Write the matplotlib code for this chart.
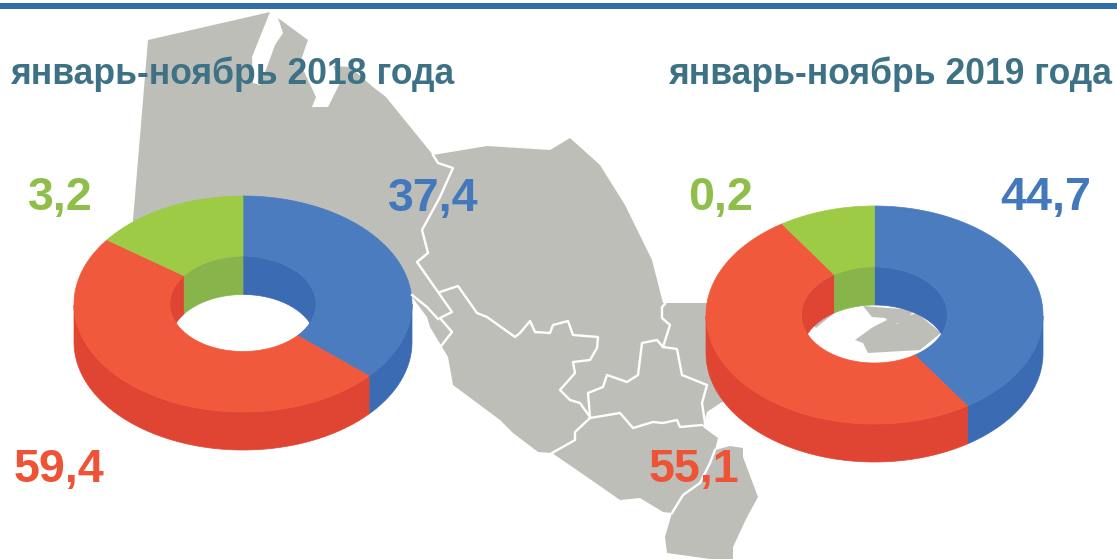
import matplotlib

matplotlib.use("Agg")
import matplotlib.pyplot as plt
import numpy as np
from matplotlib.patches import Ellipse, Polygon

plt.rcParams["font.family"] = ["Liberation Sans", "DejaVu Sans"]

# values printed on the chart
titles = ["январь-ноябрь 2018 года", "январь-ноябрь 2019 года"]
labels_2018 = ["37,4", "59,4", "3,2"]
labels_2019 = ["44,7", "55,1", "0,2"]

# slice shares as drawn (they do not follow the printed labels), clockwise from the top
shares_2018 = [36.6, 48.5, 14.9]
shares_2019 = [40.7, 50.05, 9.25]

top_colors = ["#4a7cbf", "#f0593b", "#9dcb45"]
wall_colors = ["#3b6bb3", "#e04533", "#88b54b"]
label_colors = ["#4478bc", "#ee5336", "#8fbf4a"]
map_color = "#bebeb9"
title_color = "#3d7286"
bar_color = "#2f6fa5"

# map outline, in picture pixels
map_outline = [
    (148, 40), (270, 12), (260, 37), (252, 57), (253, 83), (260, 85), (267, 67),
    (275, 45), (283, 33), (278, 18), (308, 40), (300, 63), (316, 97), (312, 107),
    (328, 107), (340, 83), (333, 66), (350, 67), (373, 87), (386, 97), (433, 155),
    (487, 146), (550, 150), (570, 138), (600, 165), (625, 205), (652, 260), (663, 303),
    (707, 303), (760, 300), (770, 380), (722, 402), (707, 412), (703, 427), (718, 438),
    (715, 450), (730, 446), (743, 448), (743, 457), (758, 497), (747, 517), (733, 547),
    (733, 559), (710, 559), (667, 553), (665, 537), (672, 513), (663, 512), (640, 498),
    (620, 500), (587, 477), (552, 453), (538, 452), (513, 433), (500, 420), (453, 385),
    (448, 357), (430, 327), (427, 317), (412, 297), (380, 270), (300, 260), (200, 255),
    (133, 240), (133, 220),
]
hole_strip = [(863, 306), (915, 310), (905, 320), (893, 325), (885, 318), (872, 317)]
hole_blob = [(855, 340), (873, 327), (887, 320), (897, 324), (907, 316), (917, 313), (941, 333),
             (920, 350), (868, 353), (863, 343)]
hole_edge = [(813, 325), (830, 311), (833, 314), (816, 328)]

# white region borders, in picture pixels
border_lines = [
    [(433, 155), (438, 163), (453, 168), (440, 197), (422, 230), (428, 253), (417, 262), (452, 312),
     (440, 318), (452, 332), (438, 350)],
    [(412, 295), (427, 307), (438, 319)],
    [(440, 292), (458, 286), (477, 313), (487, 317), (515, 337), (520, 333), (530, 321), (535, 332),
     (550, 333), (553, 325), (568, 321), (573, 335), (598, 337), (597, 348), (590, 360), (573, 362),
     (575, 373), (560, 390), (570, 400), (580, 403), (590, 417)],
    [(590, 418), (575, 432), (575, 440), (552, 453)],
    [(590, 418), (620, 413), (633, 428), (653, 422), (663, 423), (677, 420), (680, 427), (702, 425)],
    [(590, 417), (588, 393), (603, 387), (607, 375), (627, 382), (638, 375), (642, 343), (657, 340),
     (663, 347), (677, 349), (682, 375), (707, 385), (702, 403), (705, 423)],
    [(663, 347), (670, 325), (662, 318), (662, 307), (665, 304)],
    [(715, 450), (710, 463), (700, 483), (683, 495), (672, 513)],
]


def arc(cx, cy, rx, ry, t):
    rad = np.radians(t)
    return cx + rx * np.sin(rad), cy - ry * np.cos(rad)


def band(ax, t, cx, cy, rx, ry, h, color, clip=None):
    x, y = arc(cx, cy, rx, ry, t)
    pts = np.r_[np.c_[x, y], np.c_[x, y + h][::-1]]
    patch = Polygon(pts, closed=True, fc=color, ec=color, lw=0.5)
    ax.add_patch(patch)
    if clip is not None:
        patch.set_clip_path(clip)


def draw_donut(ax, shares, cx, cy, rx, ry, inner_rx, inner_ry, depth=38):
    edges = np.r_[0, np.cumsum(shares)] / np.sum(shares) * 360
    spans = list(zip(edges[:-1], edges[1:]))
    hole = Ellipse((cx, cy), 2 * inner_rx, 2 * inner_ry, transform=ax.transData)

    # outer wall: front half only
    for (a, b), color in zip(spans, wall_colors):
        t = np.linspace(a, b, 200)
        t = t[np.cos(np.radians(t)) <= 0]
        if len(t):
            band(ax, t, cx, cy, rx, ry, depth, color)

    # top face
    for (a, b), color in zip(spans, top_colors):
        t = np.linspace(a, b, 200)
        xo, yo = arc(cx, cy, rx, ry, t)
        xi, yi = arc(cx, cy, inner_rx, inner_ry, t)
        pts = np.r_[np.c_[xo, yo], np.c_[xi, yi][::-1]]
        ax.add_patch(Polygon(pts, closed=True, fc=color, ec=color, lw=0.5))

    # inner wall: back half, seen through the hole
    for (a, b), color in zip(spans, wall_colors):
        t = np.linspace(a, b, 200)
        t = t[np.cos(np.radians(t)) >= 0]
        if len(t):
            band(ax, t, cx, cy, inner_rx, inner_ry, depth, color, clip=hole)


def main():
    fig = plt.figure(figsize=(11.17, 5.59), dpi=100)
    ax = fig.add_axes([0, 0, 1, 1])
    ax.set_xlim(0, 1117)
    ax.set_ylim(559, 0)
    ax.axis("off")

    ax.add_patch(Polygon(map_outline, closed=True, fc=map_color, ec="none"))
    for piece in (hole_strip, hole_blob, hole_edge):
        ax.add_patch(Polygon(piece, closed=True, fc=map_color, ec="none"))
    for line in border_lines:
        xs, ys = zip(*line)
        ax.plot(xs, ys, color="white", lw=1.7, solid_joinstyle="round")

    ax.fill_between([0, 1117], 3, 9, color=bar_color, lw=0)

    draw_donut(ax, shares_2018, 243, 304, 169, 108, 73, 47.5)
    draw_donut(ax, shares_2019, 874.5, 315, 168.5, 109, 73, 48)

    title_kw = dict(color=title_color, fontsize=25.6, fontweight="bold", va="baseline")
    ax.text(10, 84, titles[0], ha="left", **title_kw)
    ax.text(1112, 84, titles[1], ha="right", **title_kw)

    num_kw = dict(fontsize=33.6, fontweight="bold", va="baseline", ha="left")
    ax.text(388, 211, labels_2018[0], color=label_colors[0], **num_kw)
    ax.text(14, 482, labels_2018[1], color=label_colors[1], **num_kw)
    ax.text(28, 210, labels_2018[2], color=label_colors[2], **num_kw)
    ax.text(1000, 210, labels_2019[0], color=label_colors[0], **num_kw)
    ax.text(649, 482, labels_2019[1], color=label_colors[1], **num_kw)
    ax.text(688, 210, labels_2019[2], color=label_colors[2], **num_kw)

    fig.savefig("out.png", dpi=100)
    plt.close(fig)


if __name__ == "__main__":
    main()
